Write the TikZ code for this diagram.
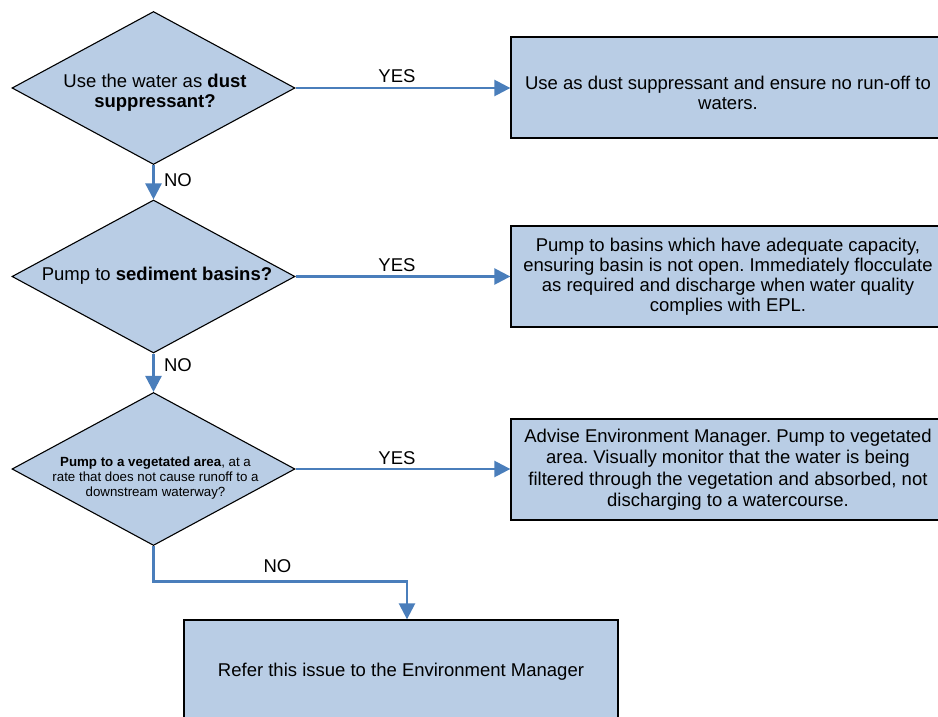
\documentclass[tikz,border=0pt]{standalone}
\usepackage{fontspec}
\setmainfont{Liberation Sans}
\frenchspacing
\usetikzlibrary{shapes.geometric,arrows.meta}
\definecolor{boxfill}{HTML}{B9CDE5}
\definecolor{arrowblue}{HTML}{4A7EBB}
\tikzset{
  decision/.style={diamond, draw=black, fill=boxfill, line width=1.1pt, inner sep=0pt,
    minimum width=283pt, minimum height=153pt},
  dtext/.style={align=center, inner sep=0pt, font=\fontsize{18.5}{20}\selectfont},
  dtextsmall/.style={align=center, inner sep=0pt, font=\fontsize{13.3}{15.3}\selectfont},
  actbox/.style={rectangle, draw=black, fill=boxfill, line width=1.3pt, align=center,
    minimum width=434pt, minimum height=101pt, inner sep=0pt,
    font=\fontsize{18.5}{20}\selectfont},
  flow/.style={draw=arrowblue, line width=2.5pt, -{Triangle[length=16pt,width=16pt]}},
  lbl/.style={inner sep=0pt, font=\fontsize{18.5}{20}\selectfont}
}
\begin{document}
\begin{tikzpicture}[x=1pt,y=-1pt]
\useasboundingbox (0,0) rectangle (938,717);
\clip (0,0) rectangle (938,717);
\fill[white] (0,0) rectangle (938,717);

% decisions
\node[decision] (d1) at (153.5,88) {};
\node[dtext] (d1t) at (155,93) {Use the water as \textbf{dust}\\\textbf{suppressant?}};
\node[decision] (d2) at (153.5,276.5) {};
\node[dtext] (d2t) at (157,276) {Pump to \textbf{sediment basins?}};
\node[decision] (d3) at (153.5,469) {};
\node[dtextsmall] (d3t) at (155.5,478) {\textbf{Pump to a vegetated area}, at a\\rate that does not cause runoff to a\\downstream waterway?};

% action boxes
\node[actbox] (b1) at (728,87.5) {};
\node[dtext] (b1t) at (728,92.5) {Use as dust suppressant and ensure no run-off to\\waters.};
\node[actbox] (b2) at (728,276.5) {Pump to basins which have adequate capacity,\\ensuring basin is not open. Immediately flocculate\\as required and discharge when water quality\\complies with EPL.};
\node[actbox, font=\fontsize{18.5}{21.5}\selectfont] (b3) at (728,469.5) {Advise Environment Manager. Pump to vegetated\\area. Visually monitor that the water is being\\filtered through the vegetation and absorbed, not\\discharging to a watercourse.};
\node[actbox, minimum height=104pt] (b4) at (401,672) {Refer this issue to the Environment Manager};

% connectors
\draw[flow] (d1.east) -- (b1.west |- d1.east);
\draw[flow] (d2.east) -- (b2.west |- d2.east);
\draw[flow] (d3.east) -- (b3.west |- d3.east);
\draw[flow] (d1.south) -- (d2.north);
\draw[flow] (d2.south) -- (d3.north);
\coordinate (b4in) at ([xshift=6pt]b4.north);
\draw[flow] (d3.south) -- ++(0,35.5) -| (b4in);

% labels
\node[lbl] (y1) at (397,76) {YES};
\node[lbl] (y2) at (397,265) {YES};
\node[lbl] (y3) at (397,458) {YES};
\node[lbl] (n1) at (178,180) {NO};
\node[lbl] (n2) at (178,365) {NO};
\node[lbl] (n3) at (277.5,566) {NO};
\end{tikzpicture}
\end{document}
